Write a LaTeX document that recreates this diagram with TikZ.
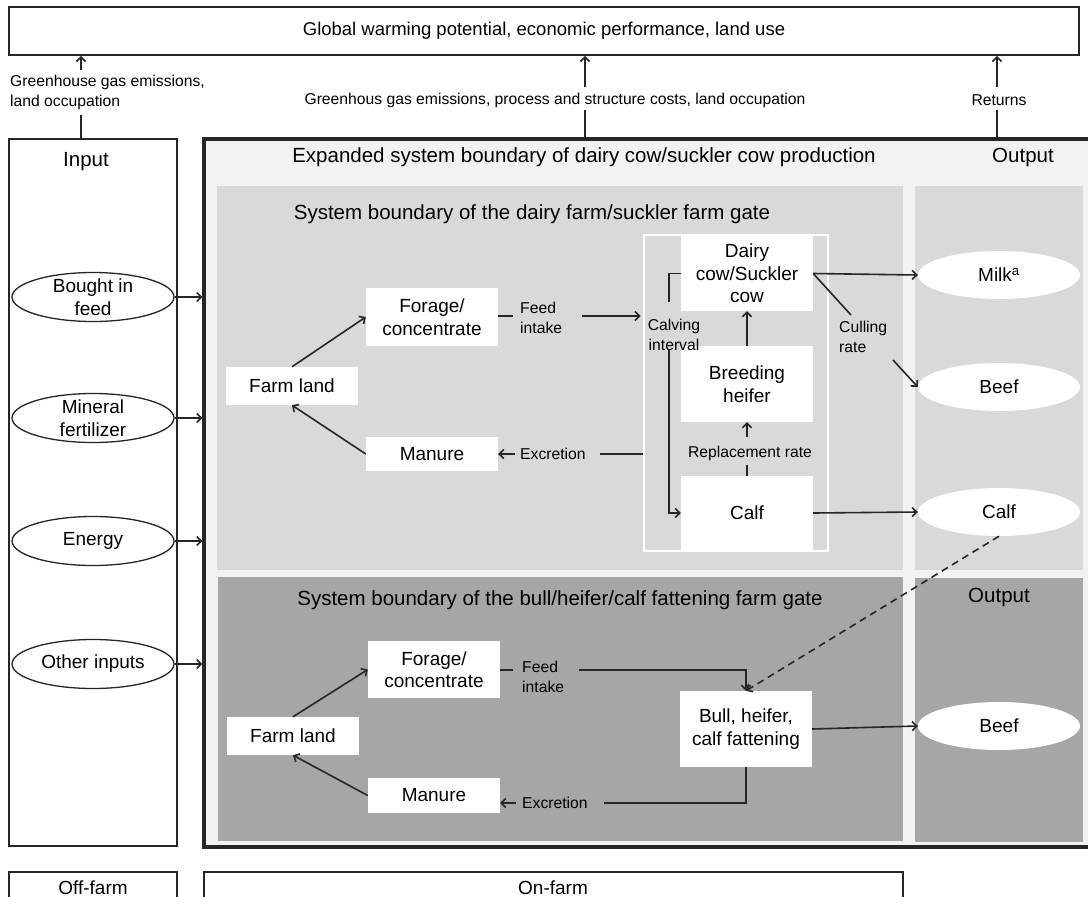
\documentclass[tikz,border=0pt]{standalone}
\usepackage{fontspec}
\setmainfont{Liberation Sans}
\usetikzlibrary{arrows.meta,shapes.geometric}

\definecolor{lineC}{RGB}{38,38,38}
\definecolor{paleG}{RGB}{242,242,242}
\definecolor{midG}{RGB}{217,217,217}
\definecolor{darkG}{RGB}{166,166,166}

\tikzset{
  txt/.style={font=\fontsize{19}{22.5}\selectfont, align=center, text=black},
  ttl/.style={font=\fontsize{20.5}{24}\selectfont, align=center, text=black},
  lbl/.style={font=\fontsize{15.7}{20}\selectfont, align=center, text=black, inner sep=1pt},
  wbox/.style={txt, fill=white, minimum width=132pt, inner sep=0pt},
  inell/.style={ellipse, draw=lineC, line width=1.3pt, fill=white, minimum width=162pt, minimum height=49pt, inner sep=0pt},
  outell/.style={txt, ellipse, fill=white, minimum width=162pt, minimum height=48pt, inner sep=0pt},
  ln/.style={draw=lineC, line width=1.6pt},
  arr/.style={ln, -{Straight Barb[length=4.5pt,width=9pt]}},
  frm/.style={draw=lineC, line width=1.8pt},
}

\begin{document}
\begin{tikzpicture}[x=1pt,y=1pt,yscale=-1,xscale=1]
\useasboundingbox (0,0) rectangle (1088,897);
\fill[white] (0,0) rectangle (1088,897);

%Shape: Rectangle [top result box]
\node[frm, font=\fontsize{18.5}{22}\selectfont, minimum width=1070pt, minimum height=48pt, inner sep=0pt] (gwp) at (544,31) {Global warming potential, economic performance, land use};
%Shape: Rectangle [input column]
\node[frm, minimum width=168pt, minimum height=707pt, inner sep=0pt] (input) at (93,492.5) {};
%Shape: Rectangle [expanded boundary]
\node[draw=lineC, line width=3.2pt, fill=paleG, minimum width=888pt, minimum height=708pt, inner sep=0pt] (expanded) at (648,493) {};
%Shape: Rectangle [dairy farm gate]
\fill[midG] (217,186) rectangle (903,570);
\fill[midG] (915,186) rectangle (1083,570);
%Shape: Rectangle [fattening farm gate]
\fill[darkG] (218,577) rectangle (903,841);
\fill[darkG] (915,578) rectangle (1083,842);
%Shape: Rectangle [herd frame]
\node[draw=white, line width=1.5pt, minimum width=184pt, minimum height=316pt, inner sep=0pt] (herd) at (736,393) {};

%Shape: Rectangle [off-farm / on-farm]
\draw[frm] (9,905) -- (9,872) -- (177,872) -- (177,905);
\draw[frm] (204,905) -- (204,872) -- (903,872) -- (903,905);

% Text Node
\node[ttl] (inT) at (86,162) {Input};
% Text Node
\node[ttl] (expT) at (584,157) {Expanded system boundary of dairy cow/suckler cow production};
% Text Node
\node[ttl] (outT1) at (1023,157) {Output};
% Text Node
\node[ttl] (dairyT) at (532,214) {System boundary of the dairy farm/suckler farm gate};
% Text Node
\node[ttl] (bullT) at (560,600) {System boundary of the bull/heifer/calf fattening farm gate};
% Text Node
\node[ttl] (outT2) at (999,597) {Output};
% Text Node
\node[txt] (offT) at (93,888) {Off-farm};
% Text Node
\node[txt] (onT) at (553,888) {On-farm};

% Input ellipses
\node[inell, label={[txt]center:Bought in\\feed}] (bought) at (93,297) {};
\node[inell, label={[txt]center:Mineral\\fertilizer}] (mineral) at (93,418) {};
\node[inell, label={[txt]center:Energy}] (energy) at (93,541) {};
\node[inell, label={[txt]center:Other inputs}] (other) at (93,664) {};

% Output ellipses
\node[outell] (milk) at (999,275) {Milk\textsuperscript{a}};
\node[outell] (beef1) at (999,387) {Beef};
\node[outell] (calfout) at (999,512) {Calf};
\node[outell] (beef2) at (999,726) {Beef};

% Dairy farm boxes
\node[wbox, minimum height=58pt] (forage1) at (432,317) {Forage/\\concentrate};
\node[wbox, minimum height=38pt] (farm1) at (292,386) {Farm land};
\node[wbox, minimum height=34pt] (manure1) at (432,454) {Manure};
\node[wbox, minimum height=75pt] (cow) at (747,273.5) {Dairy\\cow/Suckler\\cow};
\node[wbox, minimum height=76pt] (heifer) at (747,384) {Breeding\\heifer};
\node[wbox, minimum height=74pt] (calf1) at (747,513) {Calf};

% Fattening farm boxes
\node[wbox, minimum height=57pt] (forage2) at (434,669.5) {Forage/\\concentrate};
\node[wbox, minimum height=38pt] (farm2) at (293,736) {Farm land};
\node[wbox, minimum height=35pt] (manure2) at (434,795.5) {Manure};
\node[wbox, minimum height=76pt] (bull) at (746,729) {Bull, heifer,\\calf fattening};

% Labels
\node[lbl, align=left, anchor=west] (ghgL) at (9,92) {Greenhouse gas emissions,\\land occupation};
\node[lbl] (ghgM) at (555,100) {Greenhous gas emissions, process and structure costs, land occupation};
\node[lbl] (returns) at (999,100) {Returns};
\node[lbl, align=left, anchor=west] (feed1) at (519,318) {Feed\\intake};
\node[lbl, inner xsep=7pt] (calving) at (674,335) {Calving\\interval};
\node[lbl, align=left, anchor=west] (culling) at (838,337) {Culling\\rate};
\node[lbl] (repl) at (750,453) {Replacement rate};
\node[lbl, anchor=west] (excr1) at (519,454) {Excretion};
\node[lbl, align=left, anchor=west] (feed2) at (521,677) {Feed\\intake};
\node[lbl, anchor=west] (excr2) at (521,803) {Excretion};

% Coordinates at label gaps
\coordinate (upL) at (81,70);
\coordinate (lnL) at (81,115);
\coordinate (upM) at (585,87);
\coordinate (lnM) at (585,110);
\coordinate (upR) at (997,87);
\coordinate (lnR) at (997,110);
\coordinate (fd1a) at (513,316);
\coordinate (fd1b) at (582,316);
\coordinate (ciTop) at (669,302);
\coordinate (ciBot) at (669,350);
\coordinate (cu1) at (851,315);
\coordinate (cu2) at (893,360);
\coordinate (rp1) at (747,465);
\coordinate (rp2) at (747,437);
\coordinate (ex1a) at (600,454);
\coordinate (ex1b) at (515,454);
\coordinate (fd2a) at (513,670);
\coordinate (fd2b) at (579,670);
\coordinate (ex2a) at (604,803);
\coordinate (ex2b) at (516,803);

% Top arrows
\draw[ln] (lnL |- input.north) -- (lnL);
\draw[arr] (upL) -- (upL |- gwp.south);
\draw[ln] (lnM |- expanded.north) -- (lnM);
\draw[arr] (upM) -- (upM |- gwp.south);
\draw[ln] (lnR |- expanded.north) -- (lnR);
\draw[arr] (upR) -- (upR |- gwp.south);

% Inputs into the system
\draw[arr] (bought.east) -- (bought.east -| expanded.west);
\draw[arr] (mineral.east) -- (mineral.east -| expanded.west);
\draw[arr] (energy.east) -- (energy.east -| expanded.west);
\draw[arr] (other.east) -- (other.east -| expanded.west);

% Dairy farm flows
\draw[arr] (farm1.north) -- (forage1.west);
\draw[arr] (manure1.west) -- (farm1.south);
\draw[ln] (forage1.east |- fd1a) -- (fd1a);
\draw[arr] (fd1b) -- (calving.west |- fd1b);
\draw[ln] (ciTop) |- (cow.west);
\draw[arr] (ciBot) |- (calf1.west);
\draw[arr] (heifer.north) -- (cow.south);
\draw[ln] (calf1.north) -- (rp1);
\draw[arr] (rp2) -- (heifer.south);
\draw[arr] (cow.east) -- (milk.west);
\draw[ln] (cow.east) -- (cu1);
\draw[arr] (cu2) -- (beef1.west);
\draw[ln] (herd.west |- ex1a) -- (ex1a);
\draw[arr] (ex1b) -- (manure1.east |- ex1b);
\draw[arr] (calf1.east) -- (calfout.west);
\draw[arr, dash pattern=on 7pt off 5pt] (calfout.south) -- (bull.north);

% Fattening farm flows
\draw[arr] (farm2.north) -- (forage2.west);
\draw[arr] (manure2.west) -- (farm2.south);
\draw[ln] (forage2.east |- fd2a) -- (fd2a);
\draw[arr] (fd2b) -| (bull.north);
\draw[ln] (bull.south) |- (ex2a);
\draw[arr] (ex2b) -- (manure2.east |- ex2b);
\draw[arr] (bull.east) -- (beef2.west);

\end{tikzpicture}
\end{document}
